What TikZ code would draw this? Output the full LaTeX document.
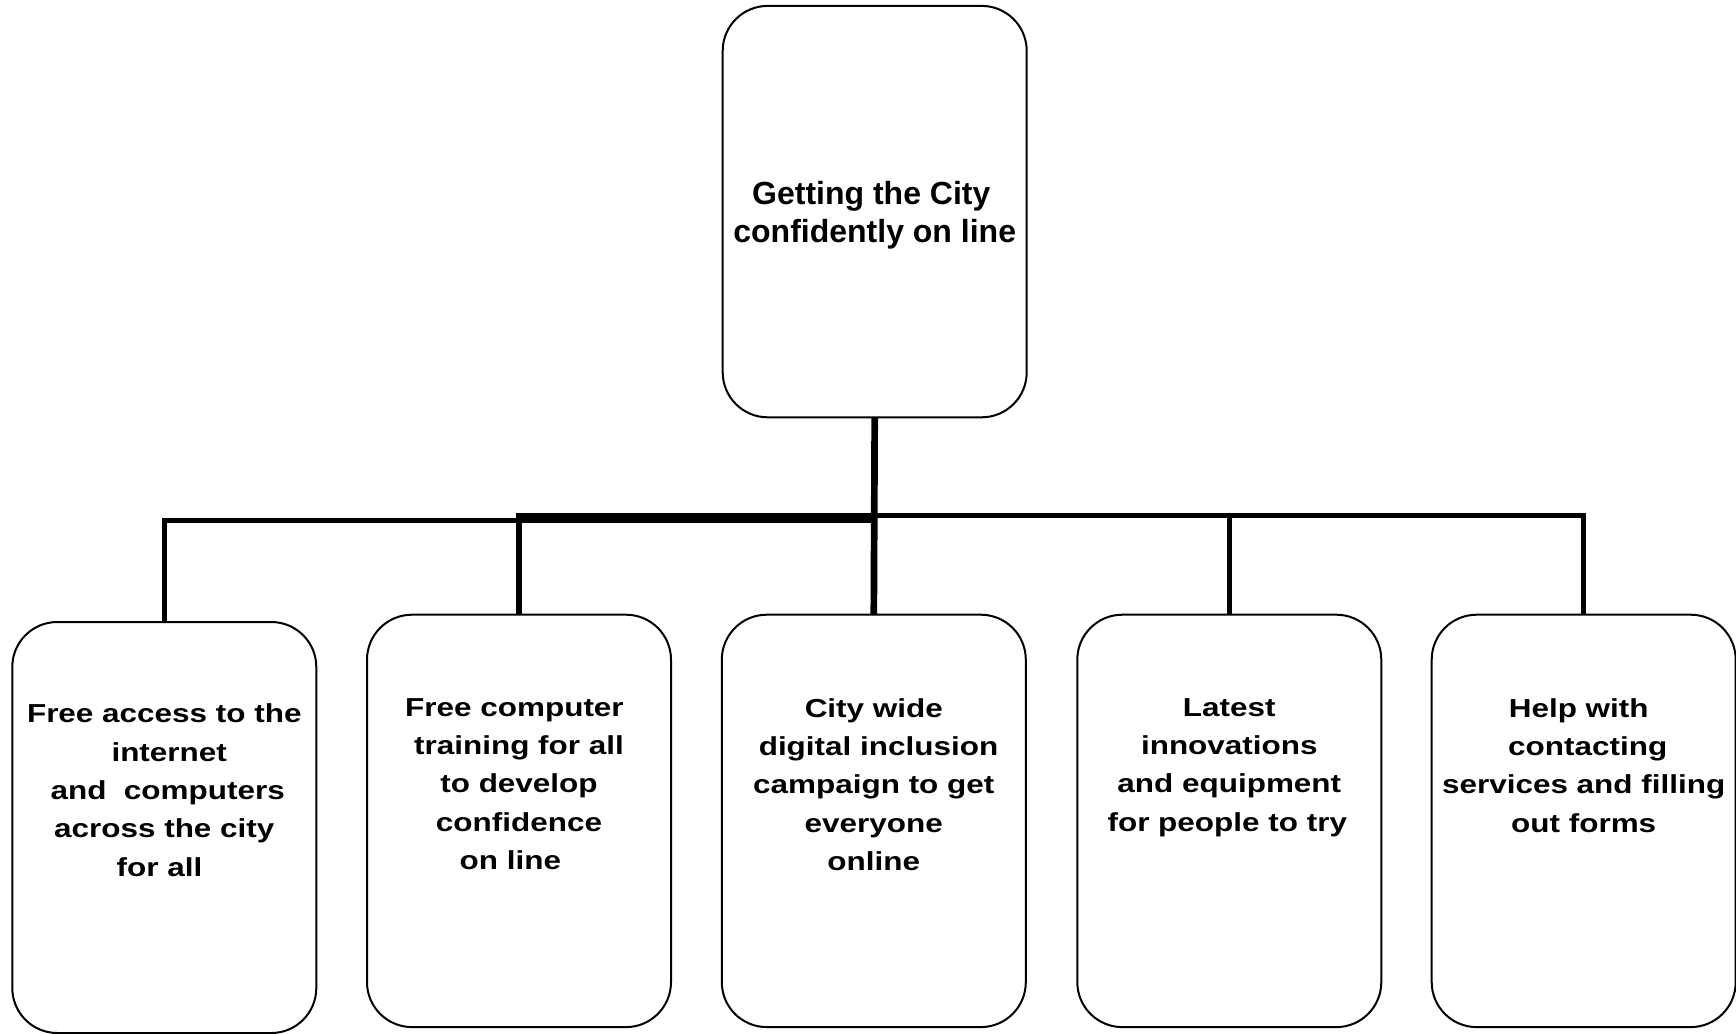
\documentclass[tikz,border=0pt]{standalone}
\usepackage{fontspec}
\setmainfont{Liberation Sans}
\newfontfamily\boxfont{Liberation Sans}[FakeStretch=1.21]
\begin{document}
\begin{tikzpicture}[x=0.5pt,y=-0.5pt,
  box/.style={draw=black, line width=1pt, rounded corners=22.5pt, minimum width=152pt,
    inner sep=0pt, outer sep=0pt, fill=white},
  toptext/.style={font=\fontsize{16pt}{19.4pt}\selectfont\bfseries, align=center,
    anchor=north, inner sep=0pt},
  bottext/.style={font=\boxfont\fontsize{13pt}{19.2pt}\selectfont\bfseries, align=center,
    anchor=north, inner sep=0pt},
  conn/.style={draw=black, line width=2.65pt},
  trunkline/.style={draw=black, line width=3.35pt}]
\useasboundingbox (0,0) rectangle (1736,1034);
\fill[white] (0,0) rectangle (1736,1034);

% boxes
\node[box, minimum height=205.7pt] (top) at (874.7,211.6) {};
\node[box, minimum height=205.5pt] (b1) at (164.3,827.5) {};
\node[box, minimum height=206.2pt] (b2) at (519,820.9) {};
\node[box, minimum height=206.2pt] (b3) at (873.8,820.9) {};
\node[box, minimum height=206.2pt] (b4) at (1229.3,820.9) {};
\node[box, minimum height=206.2pt] (b5) at (1583.7,820.9) {};

% bus levels
\coordinate (busA) at (0,520.5);
\coordinate (busB) at (0,515.8);

% connectors
\draw[conn] (b1.north) -- (b1.north |- busA) -- (top.south |- busA);
\draw[conn] (b2.north) -- (b2.north |- busB) -| (b5.north);
\draw[conn] (b4.north) -- (b4.north |- busB);
\draw[trunkline] (top.south) -- (b3.north);

% texts
\node[toptext] (ttop) at (874.7,180.5) {Getting the City\hspace*{3.4pt}\\confidently on line};

\node[bottext] (t1) at (164.3,703.5) {Free access to the\\\hspace*{4.9pt}internet\\\hspace*{3.4pt}and~ computers\\across the city\hspace*{5pt}\\for all\hspace*{4.8pt}};
\node[bottext] (t2) at (519,697.8) {Free computer\hspace*{4.5pt}\\training for all\hspace*{4.7pt}\\to develop\\confidence\\on line\hspace*{8.6pt}};
\node[bottext] (t3) at (873.8,697.8) {City wide\\\hspace*{4.7pt}digital inclusion\\campaign to get\hspace*{3.8pt}\\everyone\\online};
\node[bottext] (t4) at (1229.3,697.8) {Latest\\innovations\\and equipment\hspace*{5pt}\\for people to try\hspace*{2pt}};
\node[bottext] (t5) at (1583.7,697.8) {Help with\hspace*{5pt}\\\hspace*{4pt}contacting\\services and filling\hspace*{4.7pt}\\out forms};
\end{tikzpicture}
\end{document}
